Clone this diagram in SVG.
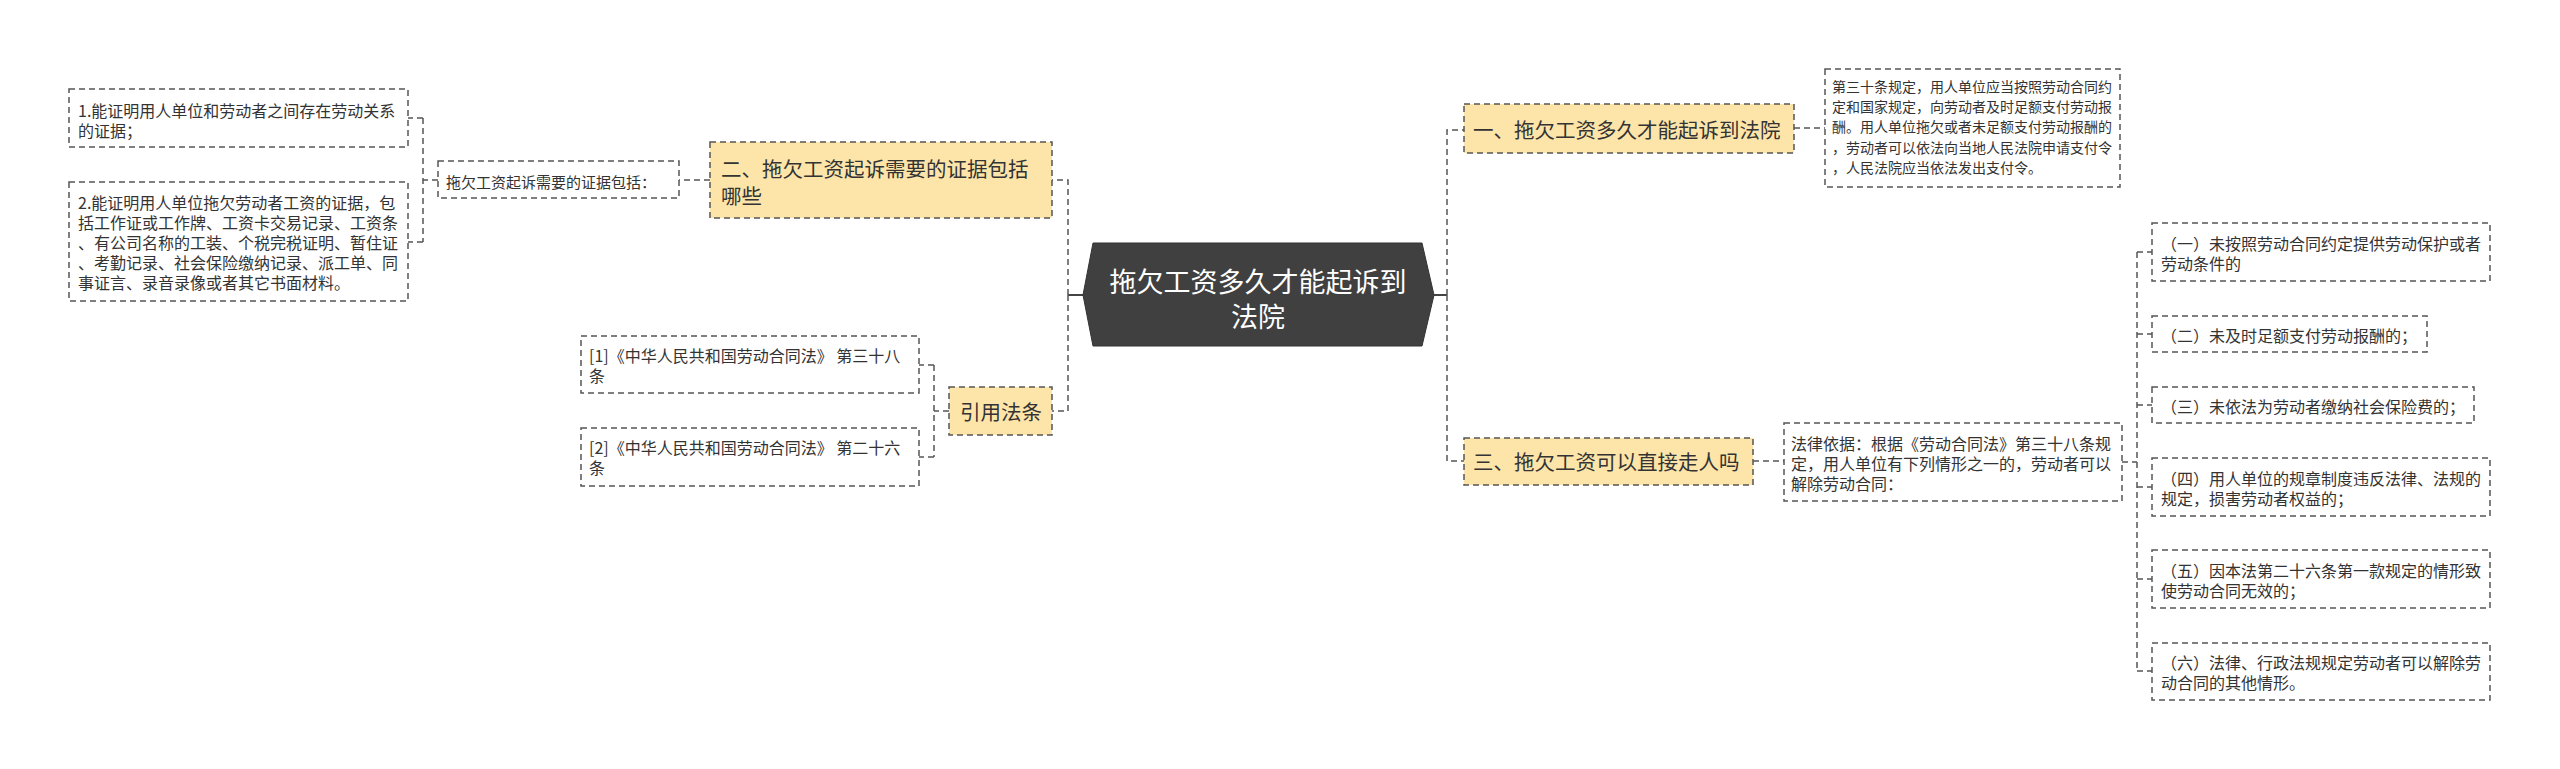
<svg xmlns="http://www.w3.org/2000/svg" width="2560" height="769" viewBox="0 0 2560 769">
<style>
text{font-family:"Noto Sans CJK SC","Liberation Sans",sans-serif;fill:#333;dominant-baseline:central}
.b{fill:#fff;stroke:#555;stroke-width:1.5;stroke-dasharray:6 4}
.t{fill:#fde5aa;stroke:#555;stroke-width:1.5;stroke-dasharray:6 4}
.c{fill:none;stroke:#555;stroke-width:1.5;stroke-dasharray:6 4}
.s{font-size:16px}
.xs{font-size:14px}
.m{font-size:20.5px}
</style>
<rect width="2560" height="769" fill="#fff"/>
<g id="connectors">
<path d="M1434,295 H1447" stroke="#444" stroke-width="2" fill="none"/>
<path d="M1083,295 H1068" stroke="#444" stroke-width="2" fill="none"/>
<path class="c" d="M1447,295 V130 H1464 M1447,295 V461 H1464"/>
<path class="c" d="M1068,295 V180 H1052 M1068,295 V411 H1052"/>
<path class="c" d="M1794,128 H1825"/>
<path class="c" d="M1753,461 H1784"/>
<path class="c" d="M2122,462 H2137 M2137,252 V671 M2137,252 H2152 M2137,334 H2152 M2137,405 H2152 M2137,487 H2152 M2137,579 H2152 M2137,671 H2152"/>
<path class="c" d="M710,180 H679"/>
<path class="c" d="M438,180 H423 M423,118 V242 M423,118 H408 M423,242 H408"/>
<path class="c" d="M949,411 H934 M934,365 V457 M934,365 H919 M934,457 H919"/>
</g>
<g id="center">
<polygon points="1083,295 1093,243 1422,243 1434,295 1422,346 1093,346" fill="#404040" stroke="#333"/>
<text x="1258" y="280" text-anchor="middle" style="font-size:27px;fill:#fff">拖欠工资多久才能起诉到</text>
<text x="1258" y="315" text-anchor="middle" style="font-size:27px;fill:#fff">法院</text>
</g>
<g id="n1">
<rect class="t" x="1464" y="104" width="330" height="49"/>
<text class="m" x="1473" y="129">一、拖欠工资多久才能起诉到法院</text>
</g>
<g id="n1d">
<rect class="b" x="1825" y="69" width="295" height="118"/>
<g class="xs">
<text class="xs" x="1832" y="86">第三十条规定，用人单位应当按照劳动合同约</text>
<text class="xs" x="1832" y="106">定和国家规定，向劳动者及时足额支付劳动报</text>
<text class="xs" x="1832" y="126">酬。用人单位拖欠或者未足额支付劳动报酬的</text>
<text class="xs" x="1832" y="147">，劳动者可以依法向当地人民法院申请支付令</text>
<text class="xs" x="1832" y="167">，人民法院应当依法发出支付令。</text>
</g>
</g>
<g id="n3">
<rect class="t" x="1464" y="438" width="289" height="47"/>
<text class="m" x="1473" y="461">三、拖欠工资可以直接走人吗</text>
</g>
<g id="n3d">
<rect class="b" x="1784" y="423" width="338" height="78"/>
<text class="s" x="1791" y="443">法律依据：根据《劳动合同法》第三十八条规</text>
<text class="s" x="1791" y="463">定，用人单位有下列情形之一的，劳动者可以</text>
<text class="s" x="1791" y="483">解除劳动合同：</text>
</g>
<g id="r1">
<rect class="b" x="2152" y="223" width="338" height="58"/>
<text class="s" x="2161" y="243">（一）未按照劳动合同约定提供劳动保护或者</text>
<text class="s" x="2161" y="263">劳动条件的</text>
</g>
<g id="r2">
<rect class="b" x="2152" y="316" width="275" height="36"/>
<text class="s" x="2161" y="335">（二）未及时足额支付劳动报酬的；</text>
</g>
<g id="r3">
<rect class="b" x="2152" y="387" width="322" height="36"/>
<text class="s" x="2161" y="406">（三）未依法为劳动者缴纳社会保险费的；</text>
</g>
<g id="r4">
<rect class="b" x="2152" y="458" width="338" height="58"/>
<text class="s" x="2161" y="478">（四）用人单位的规章制度违反法律、法规的</text>
<text class="s" x="2161" y="498">规定，损害劳动者权益的；</text>
</g>
<g id="r5">
<rect class="b" x="2152" y="550" width="338" height="58"/>
<text class="s" x="2161" y="570">（五）因本法第二十六条第一款规定的情形致</text>
<text class="s" x="2161" y="590">使劳动合同无效的；</text>
</g>
<g id="r6">
<rect class="b" x="2152" y="643" width="338" height="57"/>
<text class="s" x="2161" y="662">（六）法律、行政法规规定劳动者可以解除劳</text>
<text class="s" x="2161" y="682">动合同的其他情形。</text>
</g>
<g id="n2">
<rect class="t" x="710" y="142" width="342" height="76"/>
<text class="m" x="721" y="168">二、拖欠工资起诉需要的证据包括</text>
<text class="m" x="721" y="195">哪些</text>
</g>
<g id="n2a">
<rect class="b" x="438" y="161" width="241" height="37"/>
<text x="446" y="181" style="font-size:15px">拖欠工资起诉需要的证据包括：</text>
</g>
<g id="e1">
<rect class="b" x="69" y="89" width="339" height="58"/>
<text class="s" x="78" y="110">1.能证明用人单位和劳动者之间存在劳动关系</text>
<text class="s" x="78" y="130">的证据；</text>
</g>
<g id="e2">
<rect class="b" x="69" y="182" width="339" height="119"/>
<text class="s" x="78" y="202">2.能证明用人单位拖欠劳动者工资的证据，包</text>
<text class="s" x="78" y="222">括工作证或工作牌、工资卡交易记录、工资条</text>
<text class="s" x="78" y="242">、有公司名称的工装、个税完税证明、暂住证</text>
<text class="s" x="78" y="262">、考勤记录、社会保险缴纳记录、派工单、同</text>
<text class="s" x="78" y="282">事证言、录音录像或者其它书面材料。</text>
</g>
<g id="n4">
<rect class="t" x="949" y="387" width="103" height="48"/>
<text class="m" x="960" y="411">引用法条</text>
</g>
<g id="ref1">
<rect class="b" x="581" y="336" width="338" height="57"/>
<text class="s" x="589" y="355">[1]《中华人民共和国劳动合同法》 第三十八</text>
<text class="s" x="589" y="375">条</text>
</g>
<g id="ref2">
<rect class="b" x="581" y="428" width="338" height="58"/>
<text class="s" x="589" y="447">[2]《中华人民共和国劳动合同法》 第二十六</text>
<text class="s" x="589" y="467">条</text>
</g>
</svg>
